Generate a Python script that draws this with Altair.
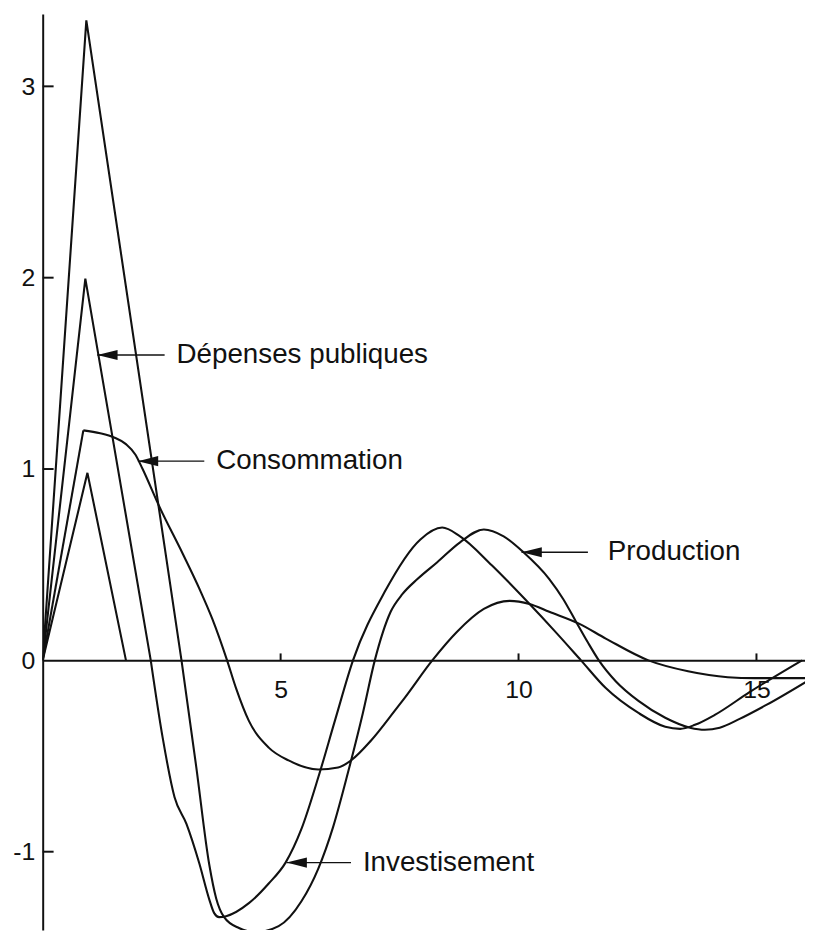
import altair as alt
import pandas as pd

# ---------------- data (t = période, v = réponse) ----------------
# small triangle
SMALL_T = [0.0, 0.94, 1.75]
SMALL_V = [0.0, 0.98, 0.0]

# peak ~2 curve
MID_T = [0.0, 0.896, 2.271, 2.521, 2.771, 3.021, 3.292, 3.5, 3.604, 3.708, 3.854, 4.333,
         4.75, 5.104, 5.4375, 5.792, 6.146, 6.521, 7.1875, 7.9375, 8.396, 8.771, 9.4375,
         10.1875, 10.79, 11.3125, 11.833, 12.52, 13.083, 13.396, 13.708, 14.125, 14.854, 15.958]
MID_V = [0.0, 1.995, 0.0, -0.404, -0.715, -0.855, -1.062, -1.249, -1.321, -1.342, -1.337, -1.269,
         -1.166, -1.057, -0.881, -0.611, -0.311, 0.0, 0.358, 0.632, 0.694, 0.648, 0.497,
         0.306, 0.145, 0.0, -0.145, -0.275, -0.347, -0.358, -0.337, -0.285, -0.166, 0.0]

# peak ~3.35 curve
BIG_T = [0.0, 0.917, 2.917, 3.229, 3.5, 3.646, 3.8125, 4.125, 4.479, 4.958, 5.4375, 5.792,
         6.104, 6.417, 6.729, 6.979, 7.3125, 7.5625, 7.875, 8.292, 8.771, 9.271, 9.6875, 10.104,
         10.646, 10.9375, 11.208, 11.458, 11.6875, 12.042, 12.52, 13.083, 13.604, 13.917, 14.229,
         14.646, 15.208, 16.0625]
BIG_V = [0.0, 3.345, 0.0, -0.560, -1.067, -1.244, -1.342, -1.399, -1.420, -1.389, -1.259, -1.088,
         -0.870, -0.585, -0.275, 0.0, 0.254, 0.347, 0.425, 0.513, 0.617, 0.684, 0.648, 0.565,
         0.425, 0.321, 0.202, 0.093, 0.0, -0.109, -0.212, -0.300, -0.352, -0.363, -0.352,
         -0.306, -0.233, -0.109]

# plateau ~1.2 curve
CONS_T = [0.0, 0.854, 1.208, 1.5, 1.75, 1.95, 2.1, 2.458, 2.938, 3.292, 3.5625, 3.875,
          4.0625, 4.333, 4.75, 5.167, 5.792, 6.208, 6.479, 6.896, 7.396, 7.604, 8.1875, 8.708,
          9.271, 9.8125, 10.229, 10.646, 11.27, 11.833, 12.73, 13.5625, 14.396, 14.958, 16.0625]
CONS_V = [0.0, 1.202, 1.187, 1.165, 1.13, 1.075, 1.0, 0.80, 0.56, 0.375, 0.218, 0.0,
          -0.145, -0.316, -0.456, -0.523, -0.57, -0.56, -0.523, -0.42, -0.264, -0.197, 0.0, 0.15,
          0.269, 0.311, 0.295, 0.254, 0.192, 0.114, 0.0, -0.057, -0.088, -0.093, -0.093]

# number of leading points joined by straight segments (the rest is smooth)
SHARP_SMALL, SHARP_MID, SHARP_BIG, SHARP_CONS = 3, 3, 3, 2

# annotations
ANNOT_LABEL = ["Dépenses publiques", "Consommation", "Production", "Investisement"]
ANNOT_TIP_T = [1.146, 2.0, 10.0625, 5.125]
ANNOT_TIP_V = [1.596, 1.041, 0.565, -1.057]
ANNOT_LINE_END_T = [2.5625, 3.396, 11.458, 6.479]
ANNOT_TEXT_T = [2.8125, 3.646, 11.875, 6.729]

X_TICKS = [5, 10, 15]
Y_TICKS = [-1, 0, 1, 2, 3]
Y_TICK_MARKS = [-1, 1, 2, 3]

X_DOMAIN = [0.0, 16.02]
Y_DOMAIN = [-1.409, 3.378]

# ---------------- layout / style ----------------
W, H = 769, 924
INK = "#111111"
FONT = "Liberation Sans"

rows = []
for name, ts, vs, k in [("small", SMALL_T, SMALL_V, SHARP_SMALL),
                        ("mid", MID_T, MID_V, SHARP_MID),
                        ("big", BIG_T, BIG_V, SHARP_BIG),
                        ("cons", CONS_T, CONS_V, SHARP_CONS)]:
    n = len(ts)
    for i, (t, v) in enumerate(zip(ts, vs)):
        if i < k:
            rows.append(dict(series=name, seg="lin", i=i, t=t, v=v))
        if i >= k - 1 and k < n:
            rows.append(dict(series=name, seg="smooth", i=i, t=t, v=v))
df = pd.DataFrame(rows)

x_axis_offset = -H * (0 - Y_DOMAIN[0]) / (Y_DOMAIN[1] - Y_DOMAIN[0])

xscale = alt.Scale(domain=X_DOMAIN, nice=False, zero=False)
yscale = alt.Scale(domain=Y_DOMAIN, nice=False, zero=False)

X = alt.X("t:Q", scale=xscale, title=None,
          axis=alt.Axis(values=X_TICKS, ticks=False, tickSize=0, grid=False,
                        domainColor=INK, domainWidth=2, labelFontSize=25, labelFont=FONT,
                        labelColor=INK, labelPadding=17, offset=x_axis_offset,
                        labelExpr="'' + datum.value"))
Y = alt.Y("v:Q", scale=yscale, title=None,
          axis=alt.Axis(values=Y_TICKS, ticks=False, tickSize=0, grid=False,
                        domainColor=INK, domainWidth=2, labelFontSize=25, labelFont=FONT,
                        labelColor=INK, labelPadding=8, labelExpr="'' + datum.value"))

lin = alt.Chart(df).transform_filter("datum.seg == 'lin'").mark_line(
    interpolate="linear", color=INK, strokeWidth=2.1, clip=True, strokeJoin="miter"
).encode(x=X, y=Y, detail="series:N", order="i:Q")

smooth = alt.Chart(df).transform_filter("datum.seg == 'smooth'").mark_line(
    interpolate="monotone", color=INK, strokeWidth=2.1, clip=True
).encode(x=X, y=Y, detail="series:N", order="i:Q")

TICK_LEN_V = 7 / (H / (Y_DOMAIN[1] - Y_DOMAIN[0]))
TICK_LEN_T = 11 / (W / (X_DOMAIN[1] - X_DOMAIN[0]))

xt = pd.DataFrame({"t": X_TICKS, "v": [0.0] * len(X_TICKS), "v2": [TICK_LEN_V] * len(X_TICKS)})
yt = pd.DataFrame({"v": Y_TICK_MARKS, "t": [0.0] * len(Y_TICK_MARKS),
                   "t2": [TICK_LEN_T] * len(Y_TICK_MARKS)})

xticks = alt.Chart(xt).mark_rule(color=INK, strokeWidth=2).encode(x=X, y=Y, y2="v2:Q")
yticks = alt.Chart(yt).mark_rule(color=INK, strokeWidth=2).encode(x=X, x2="t2:Q", y=Y)

ann = pd.DataFrame({"label": ANNOT_LABEL, "t": ANNOT_TIP_T, "v": ANNOT_TIP_V,
                    "t2": ANNOT_LINE_END_T, "tt": ANNOT_TEXT_T})

arrow_lines = alt.Chart(ann).mark_rule(color=INK, strokeWidth=1.3).encode(x=X, x2="t2:Q", y=Y)
arrow_heads = alt.Chart(ann).mark_point(
    shape="M0,0L2,-0.5L2,0.5Z", size=420, filled=True, color=INK, opacity=1, strokeWidth=0
).encode(x=X, y=Y)
texts = alt.Chart(ann).transform_calculate(t="datum.tt").mark_text(
    align="left", baseline="middle", fontSize=28, font=FONT, color=INK
).encode(x=X, y=Y, text="label:N")

chart = alt.layer(lin, smooth, xticks, yticks, arrow_lines, arrow_heads, texts).properties(
    width=W, height=H,
    padding={"left": 35, "top": 2, "right": 0, "bottom": 0},
    autosize=alt.AutoSizeParams(type="none"),
    background="white",
).configure_view(stroke=None)

chart.save("out.html", embed_options={"renderer": "svg", "actions": False})
